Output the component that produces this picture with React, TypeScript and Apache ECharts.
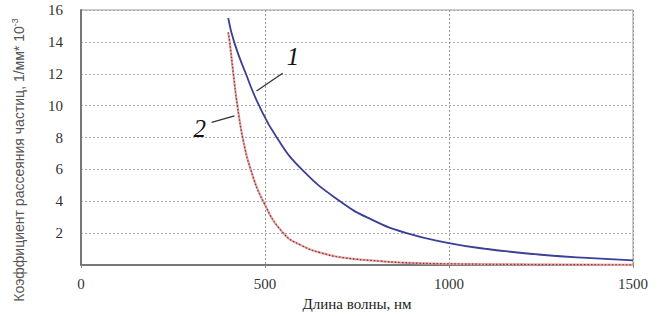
import React, { useEffect, useRef } from "react";
import * as echarts from "echarts";

// Curve 1 (blue)
const wl1 = [400, 416, 448, 484, 532, 600, 704, 790, 885, 1000, 1100, 1250, 1400, 1500];
const val1 = [15.5, 14, 12, 10, 8, 6, 4, 2.85, 2, 1.38, 1.02, 0.65, 0.42, 0.3];
// Curve 2 (red)
const wl2 = [400, 404, 414, 425, 441, 461, 495, 550, 600, 650, 712, 813, 870, 1000, 1200, 1500];
const val2 = [14.6, 14, 12, 10, 7.8, 6, 4, 2, 1.22, 0.78, 0.47, 0.25, 0.16, 0.08, 0.04, 0.02];
const xTicks = [0, 500, 1000, 1500];
const yTicks = [0, 2, 4, 6, 8, 10, 12, 14, 16];

const serif = "'Liberation Serif', 'Times New Roman', Times, serif";
const sans = "'Liberation Sans', Arial, sans-serif";

export default function App() {
  const ref = useRef<HTMLDivElement>(null);
  useEffect(() => {
    if (!ref.current) return;
    const chart = echarts.init(ref.current, null, { renderer: "svg" });
    const d1 = wl1.map((w, i) => [w, val1[i]]);
    const d2 = wl2.map((w, i) => [w, val2[i]]);
    chart.setOption({
      animation: false,
      backgroundColor: "#fff",
      textStyle: { fontFamily: serif },
      grid: {
        left: 81,
        right: 25,
        top: 10,
        bottom: 32,
        show: true,
        borderColor: "#999",
        borderWidth: 1,
      },
      xAxis: {
        type: "value",
        min: xTicks[0],
        max: xTicks[xTicks.length - 1],
        interval: 500,
        name: "Длина волны, нм",
        nameLocation: "middle",
        nameGap: 13,
        nameTextStyle: { fontFamily: serif, fontSize: 15, color: "#222" },
        axisLine: { show: true, lineStyle: { color: "#777", width: 2 } },
        axisTick: { show: true, length: 3, lineStyle: { color: "#888" } },
        axisLabel: {
          fontFamily: serif,
          fontSize: 15,
          color: "#333",
          margin: 11,
          formatter: (v: number) => String(v),
        },
        splitLine: { show: true, lineStyle: { color: "#999", type: [2, 2], width: 1 } },
      },
      yAxis: {
        type: "value",
        min: yTicks[0],
        max: yTicks[yTicks.length - 1],
        interval: 2,
        axisLine: { show: true, lineStyle: { color: "#777", width: 2 } },
        axisTick: { show: false },
        axisLabel: {
          fontFamily: serif,
          fontSize: 15,
          color: "#333",
          margin: 18,
          formatter: (v: number) => (v === 0 ? "" : String(v)),
        },
        splitLine: { show: true, lineStyle: { color: "#aaa", type: [2, 2], width: 1 } },
      },
      graphic: [
        {
          type: "text",
          x: 18,
          y: 160,
          rotation: Math.PI / 2,
          style: {
            text: "{a|Коэффициент рассеяния частиц, 1/мм* 10}{s|-3}",
            align: "center",
            verticalAlign: "middle",
            rich: {
              a: { fontFamily: sans, fontSize: 14, fill: "#555", verticalAlign: "bottom" },
              s: { fontFamily: sans, fontSize: 9, fill: "#555", verticalAlign: "top", padding: [0, 0, 6, 0] },
            },
          },
        },
      ],
      series: [
        {
          type: "line",
          name: "1",
          data: d1,
          smooth: 0.5,
          symbol: "none",
          lineStyle: { color: "#3b3f96", width: 1.8 },
          z: 3,
          markLine: {
            silent: true,
            symbol: ["none", "none"],
            label: { show: false },
            lineStyle: { color: "#333", width: 1.3, type: "solid" },
            data: [[{ coord: [548, 12.03] }, { coord: [477, 10.92] }]],
          },
          markPoint: {
            silent: true,
            symbol: "circle",
            symbolSize: 0,
            label: {
              show: true,
              position: "inside",
              formatter: "1",
              fontFamily: serif,
              fontStyle: "italic",
              fontSize: 25,
              color: "#111",
            },
            data: [{ coord: [576, 13.1] }],
          },
        },
        {
          type: "line",
          name: "2bg",
          data: d2,
          smooth: 0.5,
          symbol: "none",
          lineStyle: { color: "#e6a2a2", width: 2.2 },
          z: 2,
        },
        {
          type: "line",
          name: "2",
          data: d2,
          smooth: 0.5,
          symbol: "none",
          lineStyle: { color: "#7a3838", width: 1.2, type: [1.5, 2] },
          z: 2,
          markLine: {
            silent: true,
            symbol: ["none", "none"],
            label: { show: false },
            lineStyle: { color: "#333", width: 1.3, type: "solid" },
            data: [[{ coord: [355, 8.95] }, { coord: [417, 9.36] }]],
          },
          markPoint: {
            silent: true,
            symbol: "circle",
            symbolSize: 0,
            label: {
              show: true,
              position: "inside",
              formatter: "2",
              fontFamily: serif,
              fontStyle: "italic",
              fontSize: 25,
              color: "#111",
            },
            data: [{ coord: [323, 8.54] }],
          },
        },
      ],
    });
    return () => chart.dispose();
  }, []);
  return (
    <div
      ref={ref}
      style={{ position: "fixed", left: 0, top: 0, width: 658, height: 316, background: "#fff" }}
    />
  );
}
